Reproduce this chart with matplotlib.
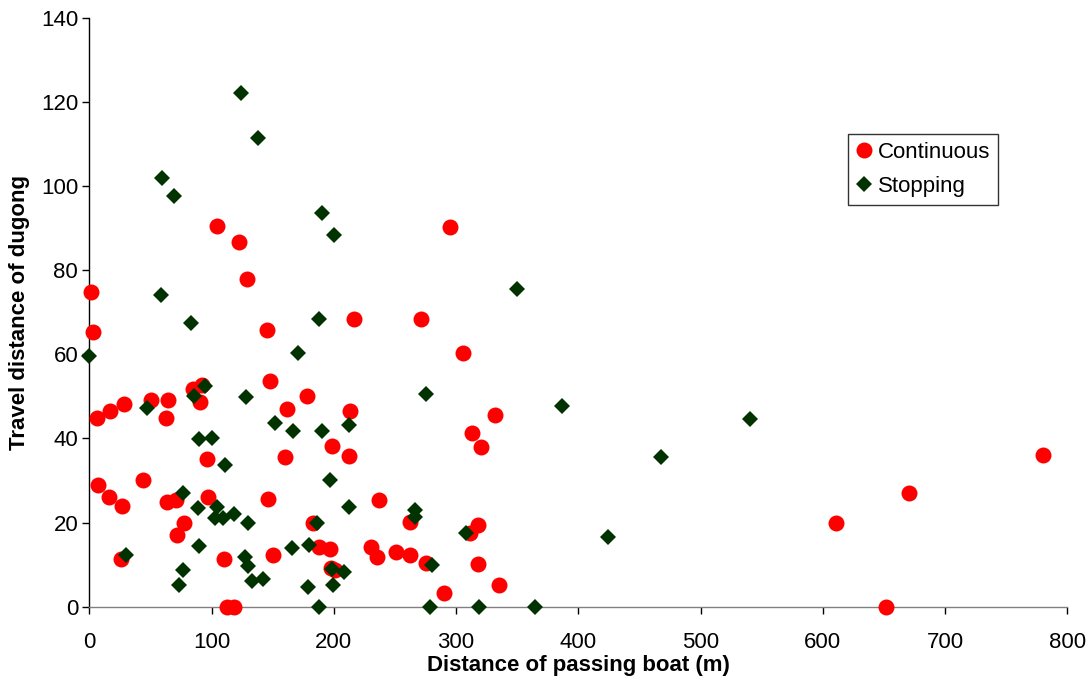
import numpy as np
import matplotlib.pyplot as plt

# Continuous passes: boat distance (m) and dugong travel distance
cont_x = [1, 2.8, 6.5, 17, 28.4, 7.4, 16.4, 26.5, 25.7, 44.2, 50.5, 64, 62.7, 63.3,
          70.7, 71.5, 77.7, 84.6, 92, 90.6, 96, 97.4, 110.2, 112.4, 118.6, 104.7,
          122.5, 128.7, 145, 147.8, 146.4, 150, 161.5, 160.3, 178.3, 183, 187.5,
          197, 198.3, 198, 201, 213.3, 212.7, 216.5, 230.5, 235, 237, 250.6, 262,
          262.5, 271, 275, 290, 295.3, 306, 313, 320, 332, 318, 311, 318, 335,
          611, 670.5, 780.4, 651.7]
cont_y = [74.9, 65.2, 44.9, 46.4, 48.2, 29, 26, 24, 11.4, 30.2, 49.2, 49.2, 44.9, 25,
          25.4, 17.1, 20, 51.8, 52.8, 48.7, 35.1, 26, 11.4, 0, 0, 90.5,
          86.8, 77.8, 65.7, 53.7, 25.6, 12.3, 47.1, 35.5, 50, 20, 14.3,
          13.7, 38.3, 9.1, 8.7, 46.4, 35.7, 68.4, 14.3, 11.7, 25.4, 13.1, 12.3,
          20.2, 68.3, 10.3, 3.2, 90.3, 60.3, 41.3, 37.9, 45.6, 19.5, 17.5, 10.1, 5.1,
          20, 27, 36, 0]

# Stopping passes
stop_x = [124.3, 138.3, 59.2, 69.5, 190.6, 200.2, 58.6, 83, 187.6, 0, 170.8, 47.3,
          86, 95, 128.5, 152, 166.9, 190, 212.8, 90, 100.6, 111, 196.8, 76.9, 88.5,
          104.5, 102.8, 109.3, 118.3, 129.5, 212, 186.3, 29.6, 89.4, 165.8, 179.5,
          76.4, 73.5, 127, 130, 133, 142.3, 179, 199.2, 198.8, 208.5, 188, 275.5,
          266, 266.4, 308.1, 280, 278.7, 319, 364.6, 386.9, 467.6, 424.6, 349.6, 540.5]
stop_y = [122, 111.5, 102, 97.6, 93.5, 88.3, 74.2, 67.5, 68.4, 59.7, 60.2, 47.2,
          50, 52.4, 49.8, 43.7, 41.8, 41.8, 43.3, 39.9, 40.1, 33.7, 30.2, 27.1, 23.4,
          23.6, 21, 21.1, 22.1, 20, 23.7, 20, 12.3, 14.4, 13.9, 14.6,
          8.8, 5.1, 11.9, 9.7, 6.2, 6.6, 4.8, 5.2, 9, 8.3, 0, 50.6,
          23.1, 21.4, 17.5, 9.9, 0, 0, 0, 47.6, 35.5, 16.5, 75.6, 44.7]

plt.rcParams['font.family'] = ['Liberation Sans', 'DejaVu Sans']

fig = plt.figure(figsize=(10.91, 6.8), dpi=100)
ax = fig.add_axes([0.0819, 0.1078, 0.8964, 0.8662])

ax.plot(cont_x, cont_y, 'o', color='#ff0000', markersize=11.5, markeredgewidth=0,
        clip_on=False, label='Continuous', zorder=3)
ax.plot(stop_x, stop_y, 'D', color='#003300', markersize=8.3, markeredgewidth=0,
        clip_on=False, label='Stopping', zorder=4)

ax.set_xlim(0, 800)
ax.set_ylim(0, 140)
ax.set_xticks(np.arange(0, 801, 100))
ax.set_yticks(np.arange(0, 141, 20))

for side in ['top', 'right']:
    ax.spines[side].set_visible(False)
ax.spines['left'].set_color('black')
ax.spines['bottom'].set_color('#808080')
ax.spines['left'].set_linewidth(1)
ax.spines['bottom'].set_linewidth(1)

ax.tick_params(axis='both', direction='out', length=5, width=1, color='black',
               labelsize=16)
ax.tick_params(axis='x', pad=13)
ax.tick_params(axis='y', pad=3)

ax.set_xlabel('Distance of passing boat (m)', fontsize=16, fontweight='bold', labelpad=2)
ax.set_ylabel('Travel distance of dugong', fontsize=16, fontweight='bold', labelpad=8)

leg = ax.legend(loc='upper left', bbox_to_anchor=(848 / 1091, 1 - 134 / 680),
                bbox_transform=fig.transFigure, fontsize=16, frameon=True,
                fancybox=False, edgecolor='black', borderaxespad=0, borderpad=0.35,
                handlelength=0.7, handletextpad=0.3, labelspacing=0.6,
                numpoints=1)
leg.get_frame().set_linewidth(1)

fig.savefig('out.png', dpi=100)
